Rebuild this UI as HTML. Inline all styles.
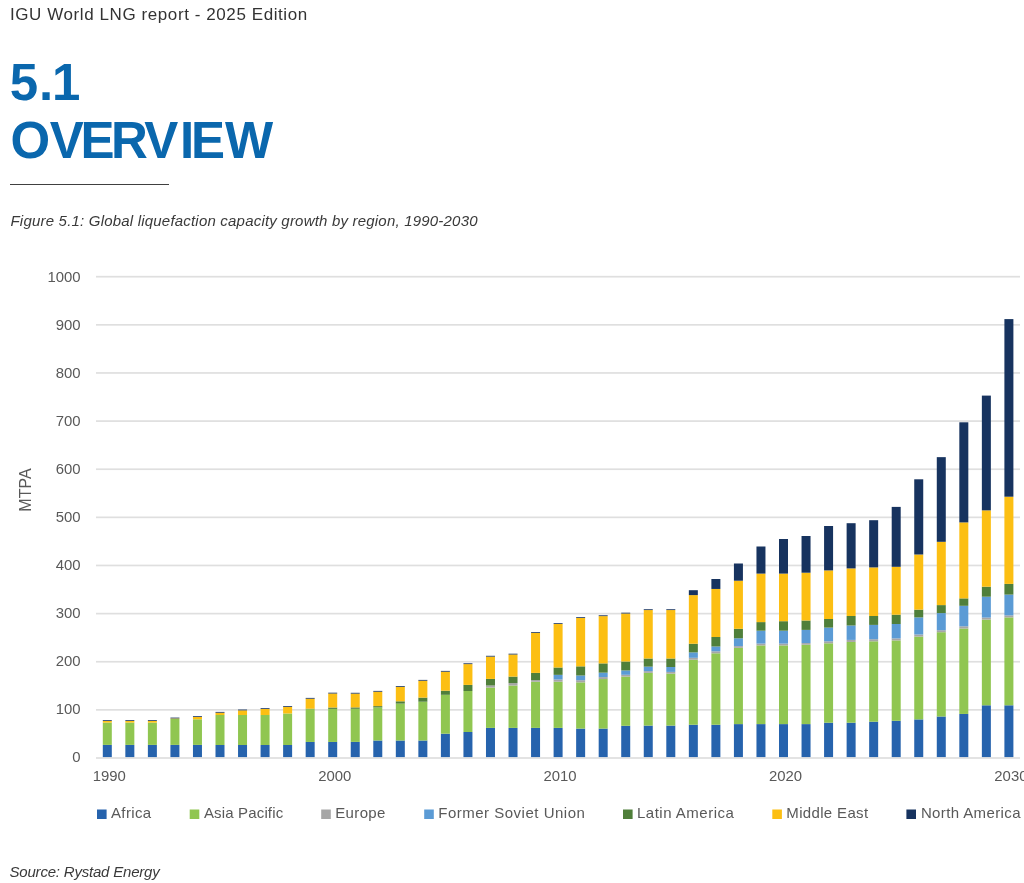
<!DOCTYPE html>
<html lang="en">
<head>
<meta charset="utf-8">
<title>IGU World LNG report - 2025 Edition</title>
<style>
html,body{margin:0;padding:0;background:#fff;}
body{width:1024px;height:883px;position:relative;overflow:hidden;font-family:"Liberation Sans",Arial,sans-serif;}
.t{position:absolute;white-space:nowrap;line-height:1;margin:0;}
#hdr{left:10px;top:6px;font-size:17px;letter-spacing:0.58px;color:#333;}
#rule{position:absolute;left:10px;top:184px;width:159px;height:1px;background:#404040;}
#cap{left:10.5px;top:212.8px;font-size:15px;letter-spacing:0.2px;font-style:italic;color:#3a3a3a;}
#src{left:9.5px;top:863.5px;font-size:15px;letter-spacing:-0.2px;font-style:italic;color:#3a3a3a;}
</style>
</head>
<body>
<div class="t" id="hdr">IGU World LNG report - 2025 Edition</div>
<div id="rule"></div>
<div class="t" id="cap">Figure 5.1: Global liquefaction capacity growth by region, 1990-2030</div>
<svg width="1024" height="883" viewBox="0 0 1024 883" style="position:absolute;left:0;top:0">
<rect x="96" y="709.02" width="924" height="1.7" fill="#DFDFDF"/>
<rect x="96" y="660.89" width="924" height="1.7" fill="#DFDFDF"/>
<rect x="96" y="612.76" width="924" height="1.7" fill="#DFDFDF"/>
<rect x="96" y="564.63" width="924" height="1.7" fill="#DFDFDF"/>
<rect x="96" y="516.50" width="924" height="1.7" fill="#DFDFDF"/>
<rect x="96" y="468.37" width="924" height="1.7" fill="#DFDFDF"/>
<rect x="96" y="420.24" width="924" height="1.7" fill="#DFDFDF"/>
<rect x="96" y="372.11" width="924" height="1.7" fill="#DFDFDF"/>
<rect x="96" y="323.98" width="924" height="1.7" fill="#DFDFDF"/>
<rect x="96" y="275.85" width="924" height="1.7" fill="#DFDFDF"/>
<rect x="102.80" y="744.90" width="9.0" height="12.60" fill="#2663AD"/>
<rect x="102.80" y="722.60" width="9.0" height="22.30" fill="#90C651"/>
<rect x="102.80" y="721.00" width="9.0" height="1.60" fill="#FCBF13"/>
<rect x="102.80" y="720.20" width="9.0" height="0.80" fill="#17335F"/>
<rect x="125.34" y="744.90" width="9.0" height="12.60" fill="#2663AD"/>
<rect x="125.34" y="722.60" width="9.0" height="22.30" fill="#90C651"/>
<rect x="125.34" y="721.00" width="9.0" height="1.60" fill="#FCBF13"/>
<rect x="125.34" y="720.20" width="9.0" height="0.80" fill="#17335F"/>
<rect x="147.88" y="744.90" width="9.0" height="12.60" fill="#2663AD"/>
<rect x="147.88" y="722.60" width="9.0" height="22.30" fill="#90C651"/>
<rect x="147.88" y="721.00" width="9.0" height="1.60" fill="#FCBF13"/>
<rect x="147.88" y="720.20" width="9.0" height="0.80" fill="#17335F"/>
<rect x="170.42" y="744.90" width="9.0" height="12.60" fill="#2663AD"/>
<rect x="170.42" y="718.80" width="9.0" height="26.10" fill="#90C651"/>
<rect x="170.42" y="718.40" width="9.0" height="0.40" fill="#FCBF13"/>
<rect x="170.42" y="717.60" width="9.0" height="0.80" fill="#17335F"/>
<rect x="192.96" y="744.90" width="9.0" height="12.60" fill="#2663AD"/>
<rect x="192.96" y="719.30" width="9.0" height="25.60" fill="#90C651"/>
<rect x="192.96" y="717.00" width="9.0" height="2.30" fill="#FCBF13"/>
<rect x="192.96" y="716.20" width="9.0" height="0.80" fill="#17335F"/>
<rect x="215.50" y="745.00" width="9.0" height="12.50" fill="#2663AD"/>
<rect x="215.50" y="715.00" width="9.0" height="30.00" fill="#90C651"/>
<rect x="215.50" y="712.70" width="9.0" height="2.30" fill="#FCBF13"/>
<rect x="215.50" y="711.90" width="9.0" height="0.80" fill="#17335F"/>
<rect x="238.04" y="745.00" width="9.0" height="12.50" fill="#2663AD"/>
<rect x="238.04" y="715.00" width="9.0" height="30.00" fill="#90C651"/>
<rect x="238.04" y="710.35" width="9.0" height="4.65" fill="#FCBF13"/>
<rect x="238.04" y="709.55" width="9.0" height="0.80" fill="#17335F"/>
<rect x="260.58" y="745.00" width="9.0" height="12.50" fill="#2663AD"/>
<rect x="260.58" y="715.00" width="9.0" height="30.00" fill="#90C651"/>
<rect x="260.58" y="709.00" width="9.0" height="6.00" fill="#FCBF13"/>
<rect x="260.58" y="708.20" width="9.0" height="0.80" fill="#17335F"/>
<rect x="283.12" y="745.00" width="9.0" height="12.50" fill="#2663AD"/>
<rect x="283.12" y="713.50" width="9.0" height="31.50" fill="#90C651"/>
<rect x="283.12" y="706.80" width="9.0" height="6.70" fill="#FCBF13"/>
<rect x="283.12" y="706.00" width="9.0" height="0.80" fill="#17335F"/>
<rect x="305.66" y="741.95" width="9.0" height="15.55" fill="#2663AD"/>
<rect x="305.66" y="709.10" width="9.0" height="32.85" fill="#90C651"/>
<rect x="305.66" y="708.70" width="9.0" height="0.40" fill="#4F7F3A"/>
<rect x="305.66" y="698.70" width="9.0" height="10.00" fill="#FCBF13"/>
<rect x="305.66" y="697.90" width="9.0" height="0.80" fill="#17335F"/>
<rect x="328.20" y="741.95" width="9.0" height="15.55" fill="#2663AD"/>
<rect x="328.20" y="708.90" width="9.0" height="33.05" fill="#90C651"/>
<rect x="328.20" y="707.50" width="9.0" height="1.40" fill="#4F7F3A"/>
<rect x="328.20" y="693.50" width="9.0" height="14.00" fill="#FCBF13"/>
<rect x="328.20" y="692.70" width="9.0" height="0.80" fill="#17335F"/>
<rect x="350.74" y="741.90" width="9.0" height="15.60" fill="#2663AD"/>
<rect x="350.74" y="708.80" width="9.0" height="33.10" fill="#90C651"/>
<rect x="350.74" y="707.40" width="9.0" height="1.40" fill="#4F7F3A"/>
<rect x="350.74" y="693.60" width="9.0" height="13.80" fill="#FCBF13"/>
<rect x="350.74" y="692.80" width="9.0" height="0.80" fill="#17335F"/>
<rect x="373.28" y="740.50" width="9.0" height="17.00" fill="#2663AD"/>
<rect x="373.28" y="707.40" width="9.0" height="33.10" fill="#90C651"/>
<rect x="373.28" y="706.10" width="9.0" height="1.30" fill="#4F7F3A"/>
<rect x="373.28" y="691.70" width="9.0" height="14.40" fill="#FCBF13"/>
<rect x="373.28" y="690.90" width="9.0" height="0.80" fill="#17335F"/>
<rect x="395.82" y="740.50" width="9.0" height="17.00" fill="#2663AD"/>
<rect x="395.82" y="703.60" width="9.0" height="36.90" fill="#90C651"/>
<rect x="395.82" y="701.30" width="9.0" height="2.30" fill="#4F7F3A"/>
<rect x="395.82" y="686.80" width="9.0" height="14.50" fill="#FCBF13"/>
<rect x="395.82" y="686.00" width="9.0" height="0.80" fill="#17335F"/>
<rect x="418.36" y="740.50" width="9.0" height="17.00" fill="#2663AD"/>
<rect x="418.36" y="701.70" width="9.0" height="38.80" fill="#90C651"/>
<rect x="418.36" y="697.60" width="9.0" height="4.10" fill="#4F7F3A"/>
<rect x="418.36" y="680.70" width="9.0" height="16.90" fill="#FCBF13"/>
<rect x="418.36" y="679.90" width="9.0" height="0.80" fill="#17335F"/>
<rect x="440.90" y="733.70" width="9.0" height="23.80" fill="#2663AD"/>
<rect x="440.90" y="694.80" width="9.0" height="38.90" fill="#90C651"/>
<rect x="440.90" y="690.70" width="9.0" height="4.10" fill="#4F7F3A"/>
<rect x="440.90" y="671.70" width="9.0" height="19.00" fill="#FCBF13"/>
<rect x="440.90" y="670.90" width="9.0" height="0.80" fill="#17335F"/>
<rect x="463.44" y="732.00" width="9.0" height="25.50" fill="#2663AD"/>
<rect x="463.44" y="691.00" width="9.0" height="41.00" fill="#90C651"/>
<rect x="463.44" y="684.90" width="9.0" height="6.10" fill="#4F7F3A"/>
<rect x="463.44" y="664.10" width="9.0" height="20.80" fill="#FCBF13"/>
<rect x="463.44" y="663.30" width="9.0" height="0.80" fill="#17335F"/>
<rect x="485.98" y="727.90" width="9.0" height="29.60" fill="#2663AD"/>
<rect x="485.98" y="687.50" width="9.0" height="40.40" fill="#90C651"/>
<rect x="485.98" y="685.50" width="9.0" height="2.00" fill="#A6A6A6"/>
<rect x="485.98" y="678.90" width="9.0" height="6.60" fill="#4F7F3A"/>
<rect x="485.98" y="656.60" width="9.0" height="22.30" fill="#FCBF13"/>
<rect x="485.98" y="655.80" width="9.0" height="0.80" fill="#17335F"/>
<rect x="508.52" y="727.90" width="9.0" height="29.60" fill="#2663AD"/>
<rect x="508.52" y="685.50" width="9.0" height="42.40" fill="#90C651"/>
<rect x="508.52" y="683.10" width="9.0" height="2.40" fill="#A6A6A6"/>
<rect x="508.52" y="676.60" width="9.0" height="6.50" fill="#4F7F3A"/>
<rect x="508.52" y="654.50" width="9.0" height="22.10" fill="#FCBF13"/>
<rect x="508.52" y="653.70" width="9.0" height="0.80" fill="#17335F"/>
<rect x="531.06" y="727.90" width="9.0" height="29.60" fill="#2663AD"/>
<rect x="531.06" y="681.70" width="9.0" height="46.20" fill="#90C651"/>
<rect x="531.06" y="680.10" width="9.0" height="1.60" fill="#A6A6A6"/>
<rect x="531.06" y="672.90" width="9.0" height="7.20" fill="#4F7F3A"/>
<rect x="531.06" y="632.80" width="9.0" height="40.10" fill="#FCBF13"/>
<rect x="531.06" y="632.00" width="9.0" height="0.80" fill="#17335F"/>
<rect x="553.60" y="727.90" width="9.0" height="29.60" fill="#2663AD"/>
<rect x="553.60" y="681.70" width="9.0" height="46.20" fill="#90C651"/>
<rect x="553.60" y="679.50" width="9.0" height="2.20" fill="#A6A6A6"/>
<rect x="553.60" y="674.85" width="9.0" height="4.65" fill="#5B9BD5"/>
<rect x="553.60" y="667.50" width="9.0" height="7.35" fill="#4F7F3A"/>
<rect x="553.60" y="624.00" width="9.0" height="43.50" fill="#FCBF13"/>
<rect x="553.60" y="623.20" width="9.0" height="0.80" fill="#17335F"/>
<rect x="576.14" y="728.60" width="9.0" height="28.90" fill="#2663AD"/>
<rect x="576.14" y="682.35" width="9.0" height="46.25" fill="#90C651"/>
<rect x="576.14" y="680.20" width="9.0" height="2.15" fill="#A6A6A6"/>
<rect x="576.14" y="675.50" width="9.0" height="4.70" fill="#5B9BD5"/>
<rect x="576.14" y="666.35" width="9.0" height="9.15" fill="#4F7F3A"/>
<rect x="576.14" y="618.00" width="9.0" height="48.35" fill="#FCBF13"/>
<rect x="576.14" y="617.20" width="9.0" height="0.80" fill="#17335F"/>
<rect x="598.68" y="728.60" width="9.0" height="28.90" fill="#2663AD"/>
<rect x="598.68" y="679.05" width="9.0" height="49.55" fill="#90C651"/>
<rect x="598.68" y="677.10" width="9.0" height="1.95" fill="#A6A6A6"/>
<rect x="598.68" y="672.65" width="9.0" height="4.45" fill="#5B9BD5"/>
<rect x="598.68" y="663.40" width="9.0" height="9.25" fill="#4F7F3A"/>
<rect x="598.68" y="616.10" width="9.0" height="47.30" fill="#FCBF13"/>
<rect x="598.68" y="615.30" width="9.0" height="0.80" fill="#17335F"/>
<rect x="621.22" y="725.80" width="9.0" height="31.70" fill="#2663AD"/>
<rect x="621.22" y="676.60" width="9.0" height="49.20" fill="#90C651"/>
<rect x="621.22" y="674.80" width="9.0" height="1.80" fill="#A6A6A6"/>
<rect x="621.22" y="670.45" width="9.0" height="4.35" fill="#5B9BD5"/>
<rect x="621.22" y="661.50" width="9.0" height="8.95" fill="#4F7F3A"/>
<rect x="621.22" y="613.50" width="9.0" height="48.00" fill="#FCBF13"/>
<rect x="621.22" y="612.70" width="9.0" height="0.80" fill="#17335F"/>
<rect x="643.76" y="725.60" width="9.0" height="31.90" fill="#2663AD"/>
<rect x="643.76" y="672.85" width="9.0" height="52.75" fill="#90C651"/>
<rect x="643.76" y="671.15" width="9.0" height="1.70" fill="#A6A6A6"/>
<rect x="643.76" y="666.65" width="9.0" height="4.50" fill="#5B9BD5"/>
<rect x="643.76" y="658.50" width="9.0" height="8.15" fill="#4F7F3A"/>
<rect x="643.76" y="610.05" width="9.0" height="48.45" fill="#FCBF13"/>
<rect x="643.76" y="609.25" width="9.0" height="0.80" fill="#17335F"/>
<rect x="666.30" y="725.60" width="9.0" height="31.90" fill="#2663AD"/>
<rect x="666.30" y="673.65" width="9.0" height="51.95" fill="#90C651"/>
<rect x="666.30" y="671.90" width="9.0" height="1.75" fill="#A6A6A6"/>
<rect x="666.30" y="667.00" width="9.0" height="4.90" fill="#5B9BD5"/>
<rect x="666.30" y="658.50" width="9.0" height="8.50" fill="#4F7F3A"/>
<rect x="666.30" y="610.05" width="9.0" height="48.45" fill="#FCBF13"/>
<rect x="666.30" y="609.25" width="9.0" height="0.80" fill="#17335F"/>
<rect x="688.84" y="724.75" width="9.0" height="32.75" fill="#2663AD"/>
<rect x="688.84" y="659.75" width="9.0" height="65.00" fill="#90C651"/>
<rect x="688.84" y="657.80" width="9.0" height="1.95" fill="#A6A6A6"/>
<rect x="688.84" y="652.40" width="9.0" height="5.40" fill="#5B9BD5"/>
<rect x="688.84" y="643.75" width="9.0" height="8.65" fill="#4F7F3A"/>
<rect x="688.84" y="595.10" width="9.0" height="48.65" fill="#FCBF13"/>
<rect x="688.84" y="590.20" width="9.0" height="4.90" fill="#17335F"/>
<rect x="711.38" y="724.75" width="9.0" height="32.75" fill="#2663AD"/>
<rect x="711.38" y="653.30" width="9.0" height="71.45" fill="#90C651"/>
<rect x="711.38" y="651.30" width="9.0" height="2.00" fill="#A6A6A6"/>
<rect x="711.38" y="646.50" width="9.0" height="4.80" fill="#5B9BD5"/>
<rect x="711.38" y="637.00" width="9.0" height="9.50" fill="#4F7F3A"/>
<rect x="711.38" y="588.95" width="9.0" height="48.05" fill="#FCBF13"/>
<rect x="711.38" y="579.00" width="9.0" height="9.95" fill="#17335F"/>
<rect x="733.92" y="724.10" width="9.0" height="33.40" fill="#2663AD"/>
<rect x="733.92" y="647.85" width="9.0" height="76.25" fill="#90C651"/>
<rect x="733.92" y="646.10" width="9.0" height="1.75" fill="#A6A6A6"/>
<rect x="733.92" y="638.30" width="9.0" height="7.80" fill="#5B9BD5"/>
<rect x="733.92" y="628.80" width="9.0" height="9.50" fill="#4F7F3A"/>
<rect x="733.92" y="580.70" width="9.0" height="48.10" fill="#FCBF13"/>
<rect x="733.92" y="563.50" width="9.0" height="17.20" fill="#17335F"/>
<rect x="756.46" y="724.10" width="9.0" height="33.40" fill="#2663AD"/>
<rect x="756.46" y="645.40" width="9.0" height="78.70" fill="#90C651"/>
<rect x="756.46" y="643.60" width="9.0" height="1.80" fill="#A6A6A6"/>
<rect x="756.46" y="630.70" width="9.0" height="12.90" fill="#5B9BD5"/>
<rect x="756.46" y="622.10" width="9.0" height="8.60" fill="#4F7F3A"/>
<rect x="756.46" y="573.60" width="9.0" height="48.50" fill="#FCBF13"/>
<rect x="756.46" y="546.50" width="9.0" height="27.10" fill="#17335F"/>
<rect x="779.00" y="724.10" width="9.0" height="33.40" fill="#2663AD"/>
<rect x="779.00" y="645.40" width="9.0" height="78.70" fill="#90C651"/>
<rect x="779.00" y="643.60" width="9.0" height="1.80" fill="#A6A6A6"/>
<rect x="779.00" y="630.70" width="9.0" height="12.90" fill="#5B9BD5"/>
<rect x="779.00" y="621.20" width="9.0" height="9.50" fill="#4F7F3A"/>
<rect x="779.00" y="573.60" width="9.0" height="47.60" fill="#FCBF13"/>
<rect x="779.00" y="539.00" width="9.0" height="34.60" fill="#17335F"/>
<rect x="801.54" y="724.10" width="9.0" height="33.40" fill="#2663AD"/>
<rect x="801.54" y="644.70" width="9.0" height="79.40" fill="#90C651"/>
<rect x="801.54" y="643.05" width="9.0" height="1.65" fill="#A6A6A6"/>
<rect x="801.54" y="629.90" width="9.0" height="13.15" fill="#5B9BD5"/>
<rect x="801.54" y="620.50" width="9.0" height="9.40" fill="#4F7F3A"/>
<rect x="801.54" y="572.70" width="9.0" height="47.80" fill="#FCBF13"/>
<rect x="801.54" y="536.00" width="9.0" height="36.70" fill="#17335F"/>
<rect x="824.08" y="722.70" width="9.0" height="34.80" fill="#2663AD"/>
<rect x="824.08" y="643.30" width="9.0" height="79.40" fill="#90C651"/>
<rect x="824.08" y="641.30" width="9.0" height="2.00" fill="#A6A6A6"/>
<rect x="824.08" y="627.60" width="9.0" height="13.70" fill="#5B9BD5"/>
<rect x="824.08" y="619.00" width="9.0" height="8.60" fill="#4F7F3A"/>
<rect x="824.08" y="570.40" width="9.0" height="48.60" fill="#FCBF13"/>
<rect x="824.08" y="526.00" width="9.0" height="44.40" fill="#17335F"/>
<rect x="846.62" y="722.70" width="9.0" height="34.80" fill="#2663AD"/>
<rect x="846.62" y="641.95" width="9.0" height="80.75" fill="#90C651"/>
<rect x="846.62" y="639.90" width="9.0" height="2.05" fill="#A6A6A6"/>
<rect x="846.62" y="625.50" width="9.0" height="14.40" fill="#5B9BD5"/>
<rect x="846.62" y="616.00" width="9.0" height="9.50" fill="#4F7F3A"/>
<rect x="846.62" y="568.40" width="9.0" height="47.60" fill="#FCBF13"/>
<rect x="846.62" y="523.20" width="9.0" height="45.20" fill="#17335F"/>
<rect x="869.16" y="721.70" width="9.0" height="35.80" fill="#2663AD"/>
<rect x="869.16" y="641.30" width="9.0" height="80.40" fill="#90C651"/>
<rect x="869.16" y="639.20" width="9.0" height="2.10" fill="#A6A6A6"/>
<rect x="869.16" y="624.90" width="9.0" height="14.30" fill="#5B9BD5"/>
<rect x="869.16" y="616.00" width="9.0" height="8.90" fill="#4F7F3A"/>
<rect x="869.16" y="567.40" width="9.0" height="48.60" fill="#FCBF13"/>
<rect x="869.16" y="520.20" width="9.0" height="47.20" fill="#17335F"/>
<rect x="891.70" y="720.80" width="9.0" height="36.70" fill="#2663AD"/>
<rect x="891.70" y="640.40" width="9.0" height="80.40" fill="#90C651"/>
<rect x="891.70" y="638.40" width="9.0" height="2.00" fill="#A6A6A6"/>
<rect x="891.70" y="624.00" width="9.0" height="14.40" fill="#5B9BD5"/>
<rect x="891.70" y="614.70" width="9.0" height="9.30" fill="#4F7F3A"/>
<rect x="891.70" y="566.80" width="9.0" height="47.90" fill="#FCBF13"/>
<rect x="891.70" y="506.90" width="9.0" height="59.90" fill="#17335F"/>
<rect x="914.24" y="719.40" width="9.0" height="38.10" fill="#2663AD"/>
<rect x="914.24" y="636.60" width="9.0" height="82.80" fill="#90C651"/>
<rect x="914.24" y="634.50" width="9.0" height="2.10" fill="#A6A6A6"/>
<rect x="914.24" y="617.40" width="9.0" height="17.10" fill="#5B9BD5"/>
<rect x="914.24" y="609.65" width="9.0" height="7.75" fill="#4F7F3A"/>
<rect x="914.24" y="554.50" width="9.0" height="55.15" fill="#FCBF13"/>
<rect x="914.24" y="479.30" width="9.0" height="75.20" fill="#17335F"/>
<rect x="936.78" y="716.50" width="9.0" height="41.00" fill="#2663AD"/>
<rect x="936.78" y="632.20" width="9.0" height="84.30" fill="#90C651"/>
<rect x="936.78" y="630.20" width="9.0" height="2.00" fill="#A6A6A6"/>
<rect x="936.78" y="613.10" width="9.0" height="17.10" fill="#5B9BD5"/>
<rect x="936.78" y="605.10" width="9.0" height="8.00" fill="#4F7F3A"/>
<rect x="936.78" y="541.80" width="9.0" height="63.30" fill="#FCBF13"/>
<rect x="936.78" y="457.15" width="9.0" height="84.65" fill="#17335F"/>
<rect x="959.32" y="713.95" width="9.0" height="43.55" fill="#2663AD"/>
<rect x="959.32" y="628.50" width="9.0" height="85.45" fill="#90C651"/>
<rect x="959.32" y="626.30" width="9.0" height="2.20" fill="#A6A6A6"/>
<rect x="959.32" y="605.80" width="9.0" height="20.50" fill="#5B9BD5"/>
<rect x="959.32" y="598.40" width="9.0" height="7.40" fill="#4F7F3A"/>
<rect x="959.32" y="522.40" width="9.0" height="76.00" fill="#FCBF13"/>
<rect x="959.32" y="422.30" width="9.0" height="100.10" fill="#17335F"/>
<rect x="981.86" y="705.30" width="9.0" height="52.20" fill="#2663AD"/>
<rect x="981.86" y="619.60" width="9.0" height="85.70" fill="#90C651"/>
<rect x="981.86" y="617.60" width="9.0" height="2.00" fill="#A6A6A6"/>
<rect x="981.86" y="596.70" width="9.0" height="20.90" fill="#5B9BD5"/>
<rect x="981.86" y="586.70" width="9.0" height="10.00" fill="#4F7F3A"/>
<rect x="981.86" y="510.35" width="9.0" height="76.35" fill="#FCBF13"/>
<rect x="981.86" y="395.60" width="9.0" height="114.75" fill="#17335F"/>
<rect x="1004.40" y="705.30" width="9.0" height="52.20" fill="#2663AD"/>
<rect x="1004.40" y="617.40" width="9.0" height="87.90" fill="#90C651"/>
<rect x="1004.40" y="615.40" width="9.0" height="2.00" fill="#A6A6A6"/>
<rect x="1004.40" y="594.60" width="9.0" height="20.80" fill="#5B9BD5"/>
<rect x="1004.40" y="583.90" width="9.0" height="10.70" fill="#4F7F3A"/>
<rect x="1004.40" y="496.70" width="9.0" height="87.20" fill="#FCBF13"/>
<rect x="1004.40" y="319.10" width="9.0" height="177.60" fill="#17335F"/>
<rect x="96" y="757.15" width="924" height="1.7" fill="#DFDFDF"/>
<g font-family="Liberation Sans, Arial, sans-serif" font-size="14.9" fill="#595959">
<text x="80.6" y="761.70" text-anchor="end">0</text>
<text x="80.6" y="713.75" text-anchor="end">100</text>
<text x="80.6" y="665.80" text-anchor="end">200</text>
<text x="80.6" y="617.85" text-anchor="end">300</text>
<text x="80.6" y="569.90" text-anchor="end">400</text>
<text x="80.6" y="521.95" text-anchor="end">500</text>
<text x="80.6" y="474.00" text-anchor="end">600</text>
<text x="80.6" y="426.05" text-anchor="end">700</text>
<text x="80.6" y="378.10" text-anchor="end">800</text>
<text x="80.6" y="330.15" text-anchor="end">900</text>
<text x="80.6" y="282.20" text-anchor="end">1000</text>
<text x="109.3" y="780.8" text-anchor="middle">1990</text>
<text x="334.7" y="780.8" text-anchor="middle">2000</text>
<text x="560.1" y="780.8" text-anchor="middle">2010</text>
<text x="785.5" y="780.8" text-anchor="middle">2020</text>
<text x="1010.9" y="780.8" text-anchor="middle">2030</text>
<text transform="translate(30.9,490) rotate(-90)" text-anchor="middle" font-size="16">MTPA</text>
<rect x="97.0" y="809.5" width="9.6" height="9.5" fill="#2663AD"/>
<text x="111.0" y="817.9" font-size="15" textLength="40.1" lengthAdjust="spacing">Africa</text>
<rect x="189.7" y="809.5" width="9.6" height="9.5" fill="#90C651"/>
<text x="203.9" y="817.9" font-size="15" textLength="79.3" lengthAdjust="spacing">Asia Pacific</text>
<rect x="321.2" y="809.5" width="9.6" height="9.5" fill="#A6A6A6"/>
<text x="335.2" y="817.9" font-size="15" textLength="50.2" lengthAdjust="spacing">Europe</text>
<rect x="424.2" y="809.5" width="9.6" height="9.5" fill="#5B9BD5"/>
<text x="438.2" y="817.9" font-size="15" textLength="146.7" lengthAdjust="spacing">Former Soviet Union</text>
<rect x="623.0" y="809.5" width="9.6" height="9.5" fill="#4F7F3A"/>
<text x="637.0" y="817.9" font-size="15" textLength="96.8" lengthAdjust="spacing">Latin America</text>
<rect x="772.3" y="809.5" width="9.6" height="9.5" fill="#FCBF13"/>
<text x="786.3" y="817.9" font-size="15" textLength="81.8" lengthAdjust="spacing">Middle East</text>
<rect x="906.4" y="809.5" width="9.6" height="9.5" fill="#17335F"/>
<text x="920.9" y="817.9" font-size="15" textLength="99.6" lengthAdjust="spacing">North America</text>
</g>
<g font-family="Liberation Sans, Arial, sans-serif" font-size="51" font-weight="bold" fill="#0A67AD">
<text x="9.85 39.1 52" y="100.3">5.1</text>
<text x="10.45 49.65 80.6 111.05 144.2 180.1 191.1 225.0" y="157.8">OVERVIEW</text>
</g>
</svg>
<div class="t" id="src">Source: Rystad Energy</div>
</body>
</html>
